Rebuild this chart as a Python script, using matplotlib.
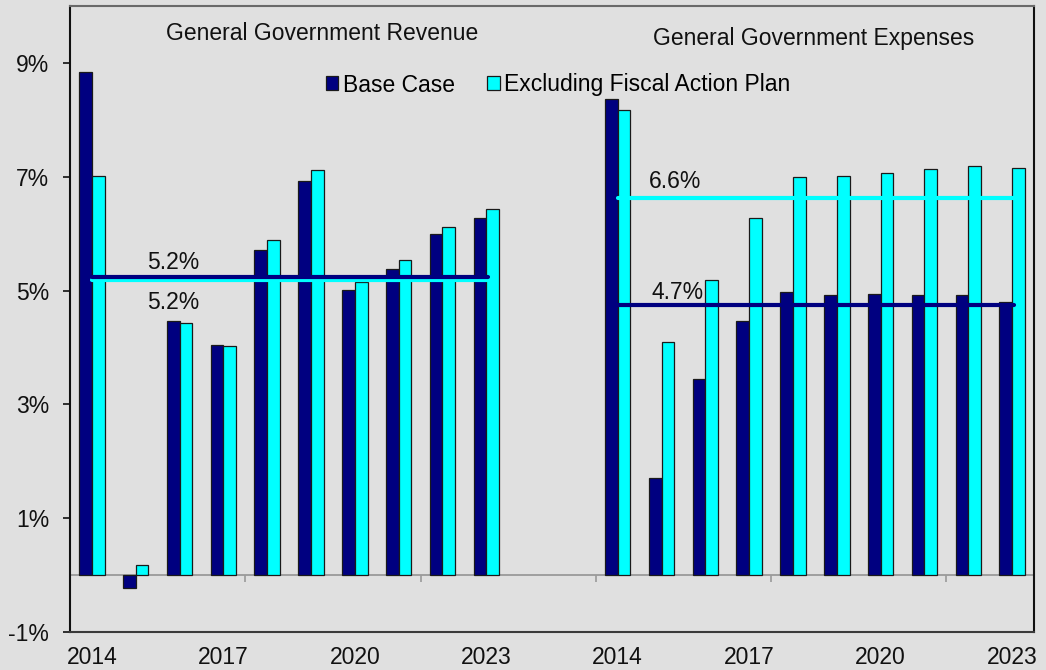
import numpy as np
import matplotlib.pyplot as plt
from matplotlib.patches import Patch

plt.rcParams['font.family'] = ['Liberation Sans', 'DejaVu Sans']

# ---- data (annual growth, %) ----
years = [2014, 2015, 2016, 2017, 2018, 2019, 2020, 2021, 2022, 2023]
revenue_base = [8.84, -0.22, 4.47, 4.05, 5.71, 6.93, 5.01, 5.38, 5.99, 6.28]
revenue_excl = [7.02, 0.18, 4.43, 4.03, 5.88, 7.11, 5.15, 5.53, 6.12, 6.43]
expenses_base = [8.37, 1.71, 3.45, 4.47, 4.98, 4.92, 4.94, 4.92, 4.92, 4.80]
expenses_excl = [8.18, 4.10, 5.18, 6.27, 6.99, 7.02, 7.07, 7.13, 7.19, 7.15]
series_names = ["Base Case", "Excluding Fiscal Action Plan"]
panel_titles = ["General Government Revenue", "General Government Expenses"]
y_ticks = [-1, 1, 3, 5, 7, 9]

# ---- style ----
NAVY = "#000080"
CYAN = "#00FFFF"
BG = "#E0E0E0"
FS = 16.5

W, H = 1046, 670
fig = plt.figure(figsize=(W / 100, H / 100), dpi=100, facecolor=BG)
ax = fig.add_axes([70 / W, 1 - 632 / H, (1034 - 70) / W, (632 - 6) / H])
ax.set_facecolor(BG)

n = len(years)
gap = 2
offsets = [0, n + gap]          # first slot of each panel
n_slots = 2 * n + gap
bw = 0.29

panels = [(revenue_base, revenue_excl), (expenses_base, expenses_excl)]
for off, (base, excl) in zip(offsets, panels):
    centers = np.arange(n) + off + 0.5
    ax.bar(centers - bw / 2, base, width=bw, color=NAVY, edgecolor="#1a1a1a",
           linewidth=0.9, zorder=2)
    ax.bar(centers + bw / 2, excl, width=bw, color=CYAN, edgecolor="#1a1a1a",
           linewidth=0.9, zorder=2)

# ---- period averages ----
avg_label_specs = {
    # panel index, series index -> (x slot, y offset in points)
    (0, 0): (2.35, 10),
    (0, 1): (2.35, -16),
    (1, 1): (13.8, 11.5),
    (1, 0): (13.86, 9),
}
for p, (off, (base, excl)) in enumerate(zip(offsets, panels)):
    for s, (vals, col) in enumerate([(base, NAVY), (excl, CYAN)]):
        mean = float(np.mean(vals))
        ax.hlines(mean, off + 0.5, off + n - 0.45, colors=col, linewidth=3.0,
                  zorder=4 if s == 0 and p == 0 else 3, capstyle="round")
        xs, dy = avg_label_specs[(p, s)]
        ax.annotate(f"{mean:.1f}%", xy=(xs, mean), xytext=(0, dy),
                    textcoords="offset points", ha="center", va="center",
                    fontsize=FS, color="#111111", zorder=5)

# ---- axes ----
ax.set_xlim(0, n_slots)
ax.set_ylim(-1, 10)

ax.set_yticks(y_ticks)
ax.set_yticklabels([f"{t}%" for t in y_ticks])
ax.tick_params(axis="y", length=5, width=1.2, pad=10, labelsize=FS,
               colors="#111111", direction="out")

label_pos, label_txt = [], []
for off in offsets:
    for i in range(0, n, 3):
        label_pos.append(off + i + 0.5)
        label_txt.append(str(years[i]))
ax.set_xticks(label_pos)
ax.set_xticklabels(label_txt)
ax.tick_params(axis="x", length=0, pad=10, labelsize=FS, colors="#111111")

# zero line with category-boundary ticks
ax.axhline(0, color="#9a9a9a", linewidth=1.3, zorder=1)
zero_frac = (0 - (-1)) / (10 - (-1))
sec = ax.secondary_xaxis(zero_frac)
sec.set_xticks([4, 8, 12, 16, 20])
sec.set_xticklabels([])
sec.tick_params(axis="x", direction="out", length=5, width=1.2, colors="#9a9a9a")
sec.spines["bottom"].set_visible(False)

for side, col in [("left", "#111111"), ("right", "#111111"),
                  ("top", "#6a6a6a"), ("bottom", "#3a3a3a")]:
    ax.spines[side].set_color(col)
    ax.spines[side].set_linewidth(1.5)

# ---- titles ----
fig.text(322 / W, 1 - 34 / H, panel_titles[0], ha="center", va="center",
         fontsize=FS, color="#111111")
fig.text(814 / W, 1 - 39 / H, panel_titles[1], ha="center", va="center",
         fontsize=FS, color="#111111")

# ---- legend ----
handles = [Patch(facecolor=NAVY, edgecolor="#1a1a1a", linewidth=0.9),
           Patch(facecolor=CYAN, edgecolor="#1a1a1a", linewidth=0.9)]
fig.legend(handles, series_names, loc="center", ncol=2, frameon=False,
           bbox_to_anchor=(558 / W, 1 - 85 / H), fontsize=FS,
           handlelength=0.55, handleheight=0.55, handletextpad=0.2,
           columnspacing=1.4, borderpad=0, borderaxespad=0)

fig.savefig("out.png", dpi=100, facecolor=BG)
